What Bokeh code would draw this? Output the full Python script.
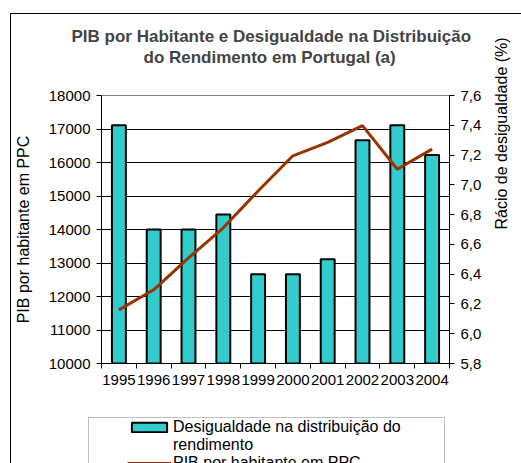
import math
from bokeh.plotting import figure
from bokeh.layouts import column
from bokeh.models import (Range1d, LinearAxis, FixedTicker, Legend, LegendItem,
                          Title, CustomJSTickFormatter)
from bokeh.embed import file_html
from bokeh.resources import INLINE

years = [1995, 1996, 1997, 1998, 1999, 2000, 2001, 2002, 2003, 2004]
pib = [11600, 12200, 13150, 14050, 15150, 16200, 16600, 17100, 15800, 16400]
ratio = [7.4, 6.7, 6.7, 6.8, 6.4, 6.4, 6.5, 7.3, 7.4, 7.2]
pib_ticks = [10000, 11000, 12000, 13000, 14000, 15000, 16000, 17000, 18000]
ratio_ticks = [5.8, 6.0, 6.2, 6.4, 6.6, 6.8, 7.0, 7.2, 7.4, 7.6]
title_lines = ["PIB por Habitante e Desigualdade na Distribuição",
               "do Rendimento em Portugal (a)"]
bar_label_lines = ["Desigualdade na distribuição do", "rendimento"]
line_label = "PIB por habitante em PPC"
left_title = "PIB por habitante em PPC"
right_title = "Rácio de desigualdade (%)"

FONT = "Liberation Sans"
BAR = "#33CCCC"
LINE = "#993300"

x_rng = Range1d(years[0] - 0.5, years[-1] + 0.5)
y_rng = Range1d(pib_ticks[0], pib_ticks[-1])
r_rng = Range1d(ratio_ticks[0], ratio_ticks[-1])

p = figure(width=521, height=417, x_range=x_rng, y_range=y_rng,
           output_backend="svg", toolbar_location=None,
           min_border_left=101, min_border_right=60,
           min_border_top=95, min_border_bottom=54)
# chart-area border (left and top edges), seen through the transparent canvas border
p.styles = {"box-shadow": "inset 10px 13px 0 0 white, inset 11px 14px 0 0 black"}
p.background_fill_color = "white"
p.border_fill_alpha = 0
p.outline_line_color = "#808080"
p.extra_y_ranges = {"ratio": r_rng}

p.xgrid.visible = False
p.ygrid.ticker = FixedTicker(ticks=pib_ticks)
p.ygrid.grid_line_color = "black"
p.ygrid.grid_line_width = 1

def style_axis(ax):
    ax.axis_line_color = "black"
    ax.major_tick_line_color = "black"
    ax.minor_tick_line_color = "black"
    ax.major_tick_in = 0
    ax.major_tick_out = 5
    ax.minor_tick_in = 0
    ax.minor_tick_out = 0
    ax.major_label_text_font = FONT
    ax.major_label_text_font_size = "15px"
    ax.major_label_text_color = "black"
    ax.axis_label_text_font = FONT
    ax.axis_label_text_font_size = "16px"
    ax.axis_label_text_font_style = "normal"
    ax.axis_label_text_color = "black"

yl = p.yaxis[0]
yl.ticker = FixedTicker(ticks=pib_ticks)
style_axis(yl)
yl.major_label_standoff = 6
yl.axis_label = left_title
yl.axis_label_standoff = 14

xa = p.xaxis[0]
xa.ticker = FixedTicker(ticks=years, minor_ticks=[y - 0.5 for y in years] + [years[-1] + 0.5])
style_axis(xa)
xa.major_tick_out = 0
xa.minor_tick_out = 5
xa.major_label_standoff = 6

yr = LinearAxis(y_range_name="ratio", ticker=FixedTicker(ticks=ratio_ticks),
                formatter=CustomJSTickFormatter(code="return tick.toFixed(1).replace('.', ',');"))
style_axis(yr)
yr.major_label_standoff = 6
yr.axis_label = right_title
yr.axis_label_text_line_height = 0.5
yr.axis_label_standoff = 17
if "axis_label_orientation" in LinearAxis.properties():
    yr.axis_label_orientation = math.pi / 2
p.add_layout(yr, "right")

# titles: spacer nearest the plot, then line 2, then line 1
p.add_layout(Title(text=".", text_color="white", text_font_size="1px", standoff=26), "above")
p.add_layout(Title(text=title_lines[1], align="left", offset=42, text_font=FONT,
                   text_font_size="17px", text_font_style="bold", standoff=0), "above")
p.add_layout(Title(text=title_lines[0], align="left", offset=-30, text_font=FONT,
                   text_font_size="17px", text_font_style="bold", standoff=0), "above")

bars = p.vbar(x=years, top=ratio, bottom=ratio_ticks[0], width=0.4, y_range_name="ratio",
              fill_color=BAR, line_color="black", line_width=2)
line = p.line(x=years, y=pib, line_color=LINE, line_width=3)

# legend strip below the chart
q = figure(width=521, height=46, x_range=x_rng, y_range=y_rng,
           output_backend="svg", toolbar_location=None,
           x_axis_location=None, y_axis_location=None,
           min_border_left=88, min_border_right=0, min_border_top=0, min_border_bottom=0)
if "frame_align" in q.properties():
    p.frame_align = False
    q.frame_align = False
q.styles = {"box-shadow": "inset 10px 0 0 0 white, inset 11px 0 0 0 black"}
q.background_fill_color = "white"
q.border_fill_alpha = 0
q.outline_line_color = None
q.grid.visible = False
q.extra_y_ranges = {"ratio": r_rng}
lbars = q.vbar(x=years, top=ratio, bottom=ratio_ticks[0], width=0.4, y_range_name="ratio",
               fill_color=BAR, line_color="black", line_width=2, visible=False)
lline = q.line(x=years, y=pib, line_color=LINE, line_width=3, visible=False)
lnone = q.scatter(x=[], y=[], size=0, fill_alpha=0, line_alpha=0, visible=False)

legend = Legend(items=[LegendItem(label=bar_label_lines[0], renderers=[lbars]),
                       LegendItem(label=bar_label_lines[1], renderers=[lnone]),
                       LegendItem(label=line_label, renderers=[lline])],
                location="top_left", padding=0, margin=0, spacing=0,
                glyph_width=44, glyph_height=12, label_standoff=2, label_width=271,
                border_line_color="#808080", border_line_width=1,
                background_fill_color="white", background_fill_alpha=1,
                inactive_fill_alpha=0,
                label_text_font=FONT, label_text_font_size="16px",
                label_text_color="black", label_text_line_height=1.0)
if "title_location" in Legend.properties():
    legend.title = "."
    legend.title_location = "left"
    legend.title_text_font_size = "1px"
    legend.title_text_color = "white"
    legend.title_standoff = 37
q.add_layout(legend)

open("out.html", "w").write(file_html(column(p, q, spacing=0), INLINE))
